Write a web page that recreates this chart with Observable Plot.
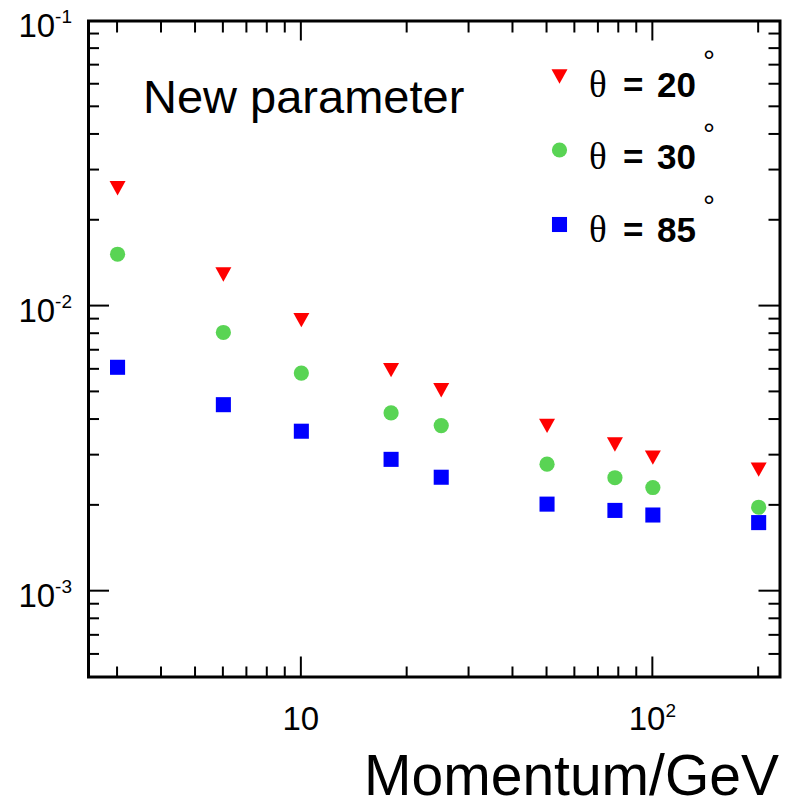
<!DOCTYPE html>
<html>
<head>
<meta charset="utf-8">
<script src="https://cdn.jsdelivr.net/npm/d3@7"></script>
<script src="https://cdn.jsdelivr.net/npm/@observablehq/plot@0.6"></script>
<style>
  html, body { margin: 0; padding: 0; background: #fff; }
  #chart svg { display: block; }
</style>
</head>
<body>
<div id="chart"></div>
<script>
// ---- data ----
const momentum = [3, 6, 10, 18, 25, 50, 78, 100, 200];           // GeV
const theta20  = [0.0259, 0.0129, 0.00893, 0.00596, 0.00507, 0.00380, 0.00327, 0.00294, 0.00267];
const theta30  = [0.0152, 0.00808, 0.00582, 0.00422, 0.00381, 0.00279, 0.00250, 0.00231, 0.00197];
const theta85  = [0.00610, 0.00451, 0.00364, 0.00290, 0.00251, 0.00202, 0.00192, 0.00185, 0.00174];
const seriesValues = [theta20, theta30, theta85];
const seriesLabels = ["20", "30", "85"];
const seriesColors = ["#ff0000", "#59d454", "#0000ff"];

const xDomain = [2.48, 230];
const yDomain = [5e-4, 0.1];
const xTickValues = [10, 100];
const xTickBase = ["10", "10"];
const xTickExp = ["", "2"];
const yTickValues = [1e-3, 1e-2, 1e-1];
const yTickBase = ["10", "10", "10"];
const yTickExp = ["-3", "-2", "-1"];
const xTitle = "Momentum/GeV";
const annotation = "New parameter";

// ---- symbols ----
const triangleDown = {
  draw(ctx, size) {
    const r = Math.sqrt(size / Math.PI);
    const h = r * 0.9;
    ctx.moveTo(-r, -h); ctx.lineTo(r, -h); ctx.lineTo(0, h); ctx.closePath();
  }
};
const seriesSymbols = [triangleDown, d3.symbolCircle, d3.symbolSquare];
const seriesR = [8, 7.6, 8.5];

const rows = [];
seriesValues.forEach((vals, s) => vals.forEach((v, i) => rows.push({p: momentum[i], v, s})));

const plot = Plot.plot({
  width: 792, height: 801,
  marginLeft: 88, marginRight: 12.5, marginTop: 20.5, marginBottom: 124.5,
  x: {type: "log", domain: xDomain, axis: null},
  y: {type: "log", domain: yDomain, axis: null},
  style: {fontFamily: "'Liberation Sans', Arial, sans-serif", background: "#fff", overflow: "visible"},
  marks: [
    ...seriesValues.map((_, s) =>
      Plot.dot(rows.filter(d => d.s === s), {x: "p", y: "v", symbol: seriesSymbols[s], r: seriesR[s], fill: seriesColors[s], stroke: "none"})
    ),
    Plot.frame({stroke: "#000", strokeWidth: 3})
  ]
});
document.getElementById("chart").appendChild(plot);

// ---- axes drawn in ROOT style using the plot's own scales ----
const xs = plot.scale("x"), ys = plot.scale("y");
const [xL, xR] = xs.range;
const [yB, yT] = ys.range;
const svg = d3.select(plot);
const g = svg.append("g").attr("stroke", "#000").attr("stroke-width", 2);

const isMajor = v => Math.abs(Math.log10(v) - Math.round(Math.log10(v))) < 1e-9;
const xTicks = d3.scaleLog().domain(xDomain).ticks();
const yTicks = d3.scaleLog().domain(yDomain).ticks();

xTicks.forEach(v => {
  const px = xs.apply(v);
  if (px <= xL + 1 || px >= xR - 1) return;
  const len = isMajor(v) ? 20 : 10;
  g.append("line").attr("x1", px).attr("x2", px).attr("y1", yB).attr("y2", yB - len);
  g.append("line").attr("x1", px).attr("x2", px).attr("y1", yT).attr("y2", yT + (isMajor(v) ? 20 : 12));
});
yTicks.forEach(v => {
  const py = ys.apply(v);
  if (py >= yB - 1 || py <= yT + 1) return;
  const len = isMajor(v) ? 21 : 11;
  g.append("line").attr("x1", xL).attr("x2", xL + len).attr("y1", py).attr("y2", py);
  g.append("line").attr("x1", xR).attr("x2", xR - len).attr("y1", py).attr("y2", py);
});

const lab = svg.append("g").attr("fill", "#000").attr("font-family", "'Liberation Sans', Arial, sans-serif").attr("text-anchor", "start");
yTickValues.forEach((v, i) => {
  const py = ys.apply(v);
  const t = lab.append("text").attr("x", 72).attr("y", py + 16).attr("text-anchor", "end").attr("font-size", 33);
  t.append("tspan").text(yTickBase[i]);
  t.append("tspan").attr("font-size", 19).attr("dy", -14).text(yTickExp[i]);
});
xTickValues.forEach((v, i) => {
  const px = xs.apply(v);
  const t = lab.append("text").attr("x", px).attr("y", 729.5).attr("text-anchor", "middle").attr("font-size", 33);
  t.append("tspan").text(xTickBase[i]);
  if (xTickExp[i]) t.append("tspan").attr("font-size", 19).attr("dy", -12.5).text(xTickExp[i]);
});

lab.append("text").attr("x", 779).attr("y", 795).attr("text-anchor", "end").attr("font-size", 57).text(xTitle);
lab.append("text").attr("x", 143).attr("y", 113).attr("text-anchor", "start").attr("font-size", 47).text(annotation);

// ---- legend ----
const legendMarkerY = [76.5, 150, 224.5];
const legendBaseY = [96.5, 169, 241.5];
seriesLabels.forEach((s, i) => {
  const sym = d3.symbol(seriesSymbols[i], seriesR[i] * seriesR[i] * Math.PI);
  lab.append("path").attr("d", sym()).attr("transform", `translate(559.5,${legendMarkerY[i]})`).attr("fill", seriesColors[i]);
  lab.append("text").attr("x", 589).attr("y", legendBaseY[i]).attr("text-anchor", "start").attr("font-family", "'Liberation Serif', 'Times New Roman', serif").attr("font-size", 37).text("θ");
  lab.append("text").attr("x", 623).attr("y", legendBaseY[i]).attr("text-anchor", "start").attr("font-size", 35).attr("font-weight", "bold").text("=");
  lab.append("text").attr("x", 657).attr("y", legendBaseY[i]).attr("text-anchor", "start").attr("font-size", 35).attr("font-weight", "bold").text(s);
  lab.append("text").attr("x", 709).attr("y", legendBaseY[i] - 25.5).attr("text-anchor", "middle").attr("font-size", 30).text("°");
});
</script>
</body>
</html>
